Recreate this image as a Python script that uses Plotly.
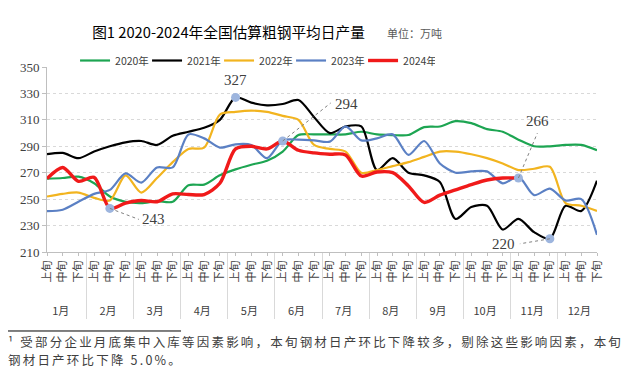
import plotly.graph_objects as go

months = ["1月", "2月", "3月", "4月", "5月", "6月", "7月", "8月", "9月", "10月", "11月", "12月"]
dekads = ["上旬", "中旬", "下旬"]

y2020 = [265.5, 266, 267, 262, 252, 248, 247, 248.5, 248, 260.5, 261, 268,
         272.5, 276, 279, 286, 298.5, 299, 299, 299, 301, 299, 298.5, 298.5,
         304.5, 305, 309, 307.5, 303, 301, 295, 290, 290, 291, 291, 287]
y2021 = [284, 285, 281, 286, 290, 293, 294, 291, 298, 301, 304, 310,
         327, 323, 321, 322, 325, 312, 300, 305, 305, 272, 281, 270,
         268, 263, 235, 244, 245, 227, 235, 225, 220, 245, 241, 264]
y2022 = [252, 254, 255, 251, 249, 268, 255, 266, 278, 288, 289, 314,
         316, 317, 316, 313, 310, 291, 288, 286, 270, 272, 275, 278,
         282, 286, 286, 284, 281, 277, 272, 273, 274.5, 247, 245, 241]
y2023 = [241, 242, 248, 254, 257, 269.5, 262.5, 274, 274, 299, 296, 289,
         291.5, 291, 281, 294.5, 295, 294.5, 293.5, 305, 294.5, 296, 299, 283.5,
         294, 277, 270, 271, 271, 262, 267, 253, 258, 249, 250, 223]
y2024 = [265.5, 274, 263.5, 266.5, 243, 247, 249, 248, 254, 253.5, 253.5, 262,
         288, 290, 288, 294, 287, 285, 284, 283.5, 267.5, 270.5, 270, 260,
         247.5, 253, 257, 261, 264.5, 266, 266]

series = [("2020年", y2020, "#1DA552", 2.2),
          ("2021年", y2021, "#000000", 2.2),
          ("2022年", y2022, "#F2B41F", 2.2),
          ("2023年", y2023, "#5B80C4", 2.2),
          ("2024年", y2024, "#F01A1A", 3.4)]

# highlighted points: (series values, index, label shift x, shift y, leader dx, dy)
highlights = [(y2024, 4, 44, -11, 29, -11),
              (y2021, 12, 0, 17, None, None),
              (y2024, 15, 64, 37, 48, 38),
              (y2024, 30, 19, 57, 19, 45),
              (y2021, 32, -46, -5, -30, -5)]

footnote_lines = ["¹ 受部分企业月底集中入库等因素影响，本旬钢材日产环比下降较多，剔除这些影响因素，本旬",
                  "钢材日产环比下降 5.0%。"]

# ideographic space pads the rotated dekad labels so month labels sit lower
pad = "\u3000"
xm = [m for m in months for _ in dekads]
xd = [pad + d for _ in months for d in dekads]

fig = go.Figure()
for name, vals, color, w in series:
    n = len(vals)
    fig.add_trace(go.Scatter(
        x=[xm[:n], xd[:n]], y=vals, name=name, mode="lines",
        line=dict(color=color, width=w, shape="spline", smoothing=0.8)))

fig.add_trace(go.Scatter(
    x=[[xm[i] for _, i, *_ in highlights], [xd[i] for _, i, *_ in highlights]],
    y=[v[i] for v, i, *_ in highlights], mode="markers", showlegend=False,
    marker=dict(color="#9DB5DE", size=9)))

annotations = []
shapes = []
for vals, i, sx, sy, dx, dy in highlights:
    annotations.append(dict(x=i, y=vals[i], xref="x", yref="y", text=str(round(vals[i])),
                            showarrow=False, xshift=sx, yshift=sy,
                            font=dict(family="Liberation Serif", size=15, color="#404040")))
    if dx is not None:
        shapes.append(dict(type="line", xref="x", yref="y", xsizemode="pixel", ysizemode="pixel",
                           xanchor=i, yanchor=vals[i], x0=0, y0=0, x1=dx, y1=dy,
                           line=dict(color="#808080", width=1, dash="dot")))

annotations.append(dict(text="单位：万吨", xref="paper", yref="paper", x=0.6137, y=1.1838,
                        xanchor="left", yanchor="middle", showarrow=False,
                        font=dict(family="Noto Sans CJK SC", size=11, color="#595959")))
for k, line in enumerate(footnote_lines):
    annotations.append(dict(text=f"<span style='letter-spacing:2.2px'>{line}</span>",
                            xref="paper", yref="paper", x=-0.074, y=-0.4838 - 0.0973 * k,
                            xanchor="left", yanchor="middle", align="left", showarrow=False,
                            font=dict(family="Noto Sans CJK SC", size=12.5, color="#404040")))
shapes.append(dict(type="line", xref="paper", yref="paper", x0=-0.0776, x1=0.2437, y0=-0.427, y1=-0.427,
                   line=dict(color="#000000", width=1)))

fig.update_layout(
    width=630, height=386,
    margin=dict(l=35, r=41, t=59, b=142),
    paper_bgcolor="white", plot_bgcolor="white",
    title=dict(text="图1 2020-2024年全国估算粗钢平均日产量", x=0.35, xref="container", xanchor="center",
               y=0.935, yref="container", yanchor="middle",
               font=dict(family="Noto Sans CJK SC", size=14.7, color="#000000")),
    legend=dict(orientation="h", x=0.051, y=1.1135, xanchor="left", yanchor="top",
                font=dict(family="Noto Sans CJK SC", size=10.5, color="#404040"),
                entrywidth=27, entrywidthmode="pixels", itemwidth=30, bgcolor="rgba(0,0,0,0)"),
    yaxis=dict(range=[210, 350], tick0=210, dtick=20, showgrid=True, gridcolor="#D9D9D9", griddash="dot",
               showline=True, linecolor="#BFBFBF", ticks="outside", ticklen=4, tickcolor="#BFBFBF",
               tickfont=dict(family="Liberation Serif", size=13, color="#404040"), zeroline=False),
    xaxis=dict(type="multicategory", showline=True, linecolor="#BFBFBF", ticks="outside",
               tickson="labels", ticklen=3, tickcolor="#BFBFBF", tickangle=-90,
               showdividers=True, dividercolor="#D9D9D9", dividerwidth=1,
               tickfont=dict(family="Noto Sans CJK SC", size=11, color="#404040"), showgrid=False),
    annotations=annotations, shapes=shapes,
    showlegend=True,
)

fig.write_html("out.html")
